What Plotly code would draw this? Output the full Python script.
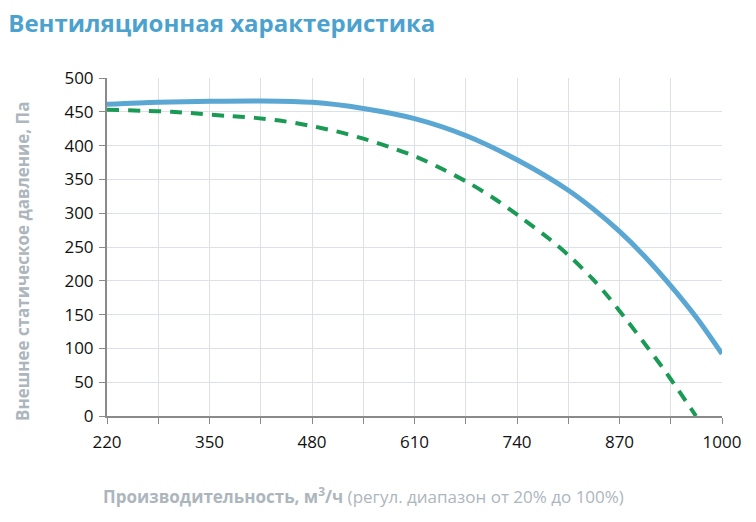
import plotly.graph_objects as go

blue_x = [220, 285, 352, 416, 480, 545, 610, 675, 740, 805, 837, 870, 902, 934, 968, 1000]
blue_y = [461, 464, 465.5, 466, 464, 455, 440, 415, 379, 334, 306, 273, 236, 194, 145, 92]
green_x = [220, 266, 302, 334, 372, 408, 439, 475, 511, 543, 578, 613, 646, 680, 712, 747, 782,
           807, 835, 856, 879, 902, 925, 946, 967]
green_y = [453, 451.5, 450, 447.5, 444, 441, 437, 430, 421, 411, 398, 383, 365, 344, 321, 292, 261,
           236, 204, 176, 142, 107, 71, 36, 0]

x_labels = [220, 350, 480, 610, 740, 870, 1000]
x_minor = [285, 415, 545, 675, 805, 935]
y_ticks = list(range(0, 501, 50))

fig = go.Figure()
fig.add_trace(go.Scatter(x=green_x, y=green_y, mode="lines",
                         line=dict(color="#1a9a55", width=4, dash="12px,9px", shape="spline", smoothing=0.8),
                         hoverinfo="skip"))
fig.add_trace(go.Scatter(x=blue_x, y=blue_y, mode="lines",
                         line=dict(color="#5ba7d3", width=5, shape="spline", smoothing=0.8),
                         hoverinfo="skip"))

font_main = "Open Sans, Noto Sans, sans-serif"
axis_title_color = "#adb6bd"
fig.update_layout(
    width=756, height=522,
    margin=dict(l=107, r=34, t=78, b=106),
    paper_bgcolor="white", plot_bgcolor="white",
    showlegend=False,
    font=dict(family=font_main, color="#111111", size=17),
    title=dict(text="<b>Вентиляционная характеристика</b>", x=0.011, xanchor="left",
               y=0.954, yanchor="middle",
               font=dict(size=24, color="#4ba2cf", family=font_main)),
    annotations=[
        dict(text="<b>Производительность, м<sup>3</sup>/ч</b> (регул. диапазон от 20% до 100%)",
             xref="paper", yref="paper", x=(363 - 107) / 615, y=-(496 - 416) / 338,
             xanchor="center", yanchor="middle", showarrow=False,
             font=dict(size=17, color=axis_title_color, family=font_main)),
        dict(text="<b>Внешнее статическое давление, Па</b>",
             xref="paper", yref="paper", x=-(107 - 22) / 615, y=(416 - 262) / 338,
             xanchor="center", yanchor="middle", showarrow=False, textangle=-90,
             font=dict(size=17, color=axis_title_color, family=font_main)),
    ],
)
fig.update_xaxes(range=[220, 1000], tickvals=x_labels,
                 showgrid=True, gridcolor="#dde1e7", gridwidth=1,
                 showline=True, linecolor="#8a8a8a", linewidth=2,
                 ticks="outside", ticklen=6, tickcolor="#8a8a8a",
                 minor=dict(tickvals=x_minor, showgrid=True, gridcolor="#dde1e7", gridwidth=1,
                            ticks="outside", ticklen=6, tickcolor="#8a8a8a"),
                 ticklabelstandoff=4,
                 tickfont=dict(size=17, color="#111111"), zeroline=False)
fig.update_yaxes(range=[0, 500], tickvals=y_ticks,
                 showgrid=True, gridcolor="#dde1e7", gridwidth=1,
                 showline=True, linecolor="#8a8a8a", linewidth=2,
                 ticks="outside", ticklen=6, tickcolor="#8a8a8a",
                 ticklabelstandoff=2,
                 tickfont=dict(size=17, color="#111111"), zeroline=False)

fig.write_html("out.html")
